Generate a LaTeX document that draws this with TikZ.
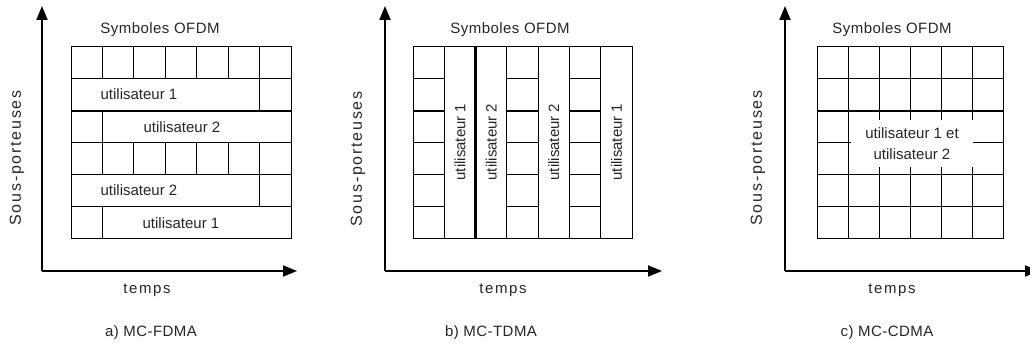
\documentclass[tikz,border=0pt]{standalone}
\usepackage{fontspec}
\setmainfont{Liberation Sans}
\newfontfamily\widefont[LetterSpace=11]{Liberation Sans}
\newfontfamily\halffont[LetterSpace=3]{Liberation Sans}
\usepackage{tikz}
\usetikzlibrary{arrows.meta}
\tikzset{
 cell/.style={draw=black,line width=1pt},
 sep/.style={draw=black,line width=2.4pt},
 axis/.style={-{Triangle[length=14pt,width=11pt]},line width=1.9pt,draw=black},
 lbl/.style={font=\fontsize{15}{21}\selectfont,text=black!85,inner sep=1pt},
 title/.style={lbl,font=\fontsize{15}{21}\halffont},
 wide/.style={lbl,font=\fontsize{15}{21}\widefont},
 ylbl/.style={lbl,font=\fontsize{16}{21}\widefont,rotate=90},
 usr/.style={lbl,fill=white,align=center}
}
\begin{document}
\begin{tikzpicture}[x=1pt,y=-1pt]
 \useasboundingbox (0,0) rectangle (1030,347);
 % a) MC-FDMA
 \coordinate (oA) at (42,271);
 \coordinate (yA) at (42,6);
 \coordinate (xA) at (297,271);
 \draw[axis] (oA) -- (yA);
 \draw[axis] (oA) -- (xA);
 \draw[cell] (71,47) rectangle (291,239);
 \foreach \y in {79,143,175,207} \draw[cell] (71,\y) -- (291,\y);
 \draw[sep] (71,111) -- (291,111);
 \foreach \i in {1,...,6} {
   \draw[cell] (71+\i*31.43,47) -- ++(0,32);
   \draw[cell] (71+\i*31.43,143) -- ++(0,32);
 }
 \draw[cell] (259.6,79) -- (259.6,111);
 \draw[cell] (259.6,175) -- (259.6,207);
 \draw[cell] (102.4,111) -- (102.4,143);
 \draw[cell] (102.4,207) -- (102.4,239);
 \node[lbl] (u1a) at (139,94) {utilisateur 1};
 \node[lbl] (u2a) at (182,127) {utilisateur 2};
 \node[lbl] (u2b) at (139,190) {utilisateur 2};
 \node[lbl] (u1b) at (181,223) {utilisateur 1};
 \node[title] (symA) at (160,30) {Symboles OFDM};
 \node[ylbl] (portA) at (17,158) {Sous-porteuses};
 \node[wide] (tempsA) at (147,290) {temps};
 \node[title] (capA) at (151,333) {a) MC-FDMA};
 % b) MC-TDMA
 \coordinate (oB) at (385,271);
 \coordinate (yB) at (385,6);
 \coordinate (xB) at (662,271);
 \draw[axis] (oB) -- (yB);
 \draw[axis] (oB) -- (xB);
 \draw[cell] (413,47) rectangle (632,239);
 \foreach \i in {1,3,4,5,6} \draw[cell] (413+\i*31.29,47) -- ++(0,192);
 \draw[sep] (475.6,47) -- (475.6,239);
 \foreach \c in {0,3,5} {
   \foreach \y in {79,143,175,207} \draw[cell] (413+\c*31.29,\y) -- ++(31.29,0);
   \draw[sep] (413+\c*31.29,111) -- ++(31.29,0);
 }
 \node[lbl,rotate=90] (t1a) at (459.9,142) {utilisateur 1};
 \node[lbl,rotate=90] (t2a) at (491.2,142) {utilisateur 2};
 \node[lbl,rotate=90] (t2b) at (553.8,142) {utilisateur 2};
 \node[lbl,rotate=90] (t1b) at (616.4,142) {utilisateur 1};
 \node[title] (symB) at (510,30) {Symboles OFDM};
 \node[ylbl] (portB) at (358,159) {Sous-porteuses};
 \node[wide] (tempsB) at (503,290) {temps};
 \node[title] (capB) at (491,333) {b) MC-TDMA};
 % c) MC-CDMA
 \coordinate (oC) at (785,271);
 \coordinate (yC) at (785,6);
 \coordinate (xC) at (1039,271);
 \draw[axis] (oC) -- (yC);
 \draw[axis] (oC) -- (xC);
 \draw[cell] (817,47) rectangle (1003,239);
 \foreach \i in {1,...,5} \draw[cell] (817+\i*31,47) -- ++(0,192);
 \foreach \y in {79,143,175,207} \draw[cell] (817,\y) -- (1003,\y);
 \draw[sep] (817,111) -- (1003,111);
 \node[usr,minimum width=122pt,minimum height=47pt] (u12) at (912,143.5) {utilisateur 1 et\\utilisateur 2};
 \node[title] (symC) at (892,30) {Symboles OFDM};
 \node[ylbl] (portC) at (758,158) {Sous-porteuses};
 \node[wide] (tempsC) at (892,290) {temps};
 \node[title] (capC) at (887,333) {c) MC-CDMA};
\end{tikzpicture}
\end{document}
